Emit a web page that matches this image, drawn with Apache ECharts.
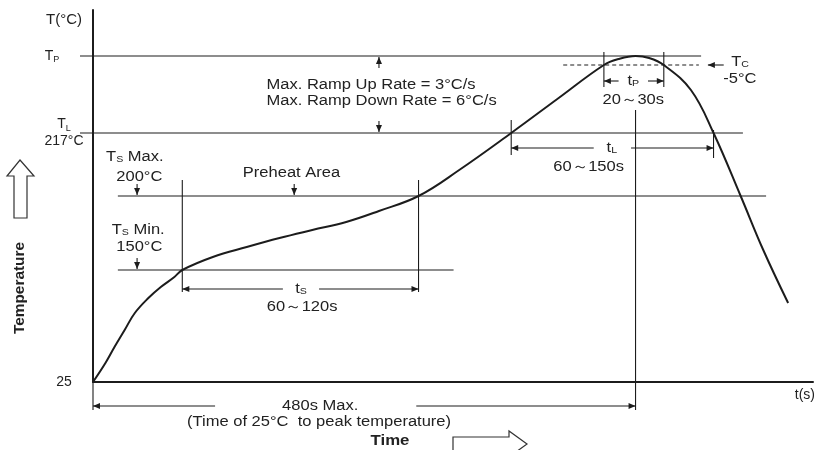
<!DOCTYPE html>
<html><head><meta charset="utf-8">
<script src="https://cdn.jsdelivr.net/npm/echarts@6/dist/echarts.min.js"></script>
<style>html,body{margin:0;padding:0;background:#fff}#c{width:818px;height:450px}</style>
</head><body><div id="c"></div>
<script>
// Schematic reflow profile. Time in seconds (schematic), temperature as schematic height.
const curveTime  = [0,11,19,28,37,49,60,72,79,106,136,165,194,224,253,288,324,370,412,452,465,480,492,505,529,549,573,593,615];
const curveLevel = [0,19,35,52,69,84,95,105,112,125,135,144,152,160,171,186,212,249,284,317,323,326,324,317,292,249,186,132,79];
// levels: 25°C, Ts min 150°C, Ts max 200°C, TL 217°C, Tp-5°C, Tp
const levelValues = [0,112,186,249,317,326];
const axisLevelValues = [0,249,326];
const axisLevelLabels = ['25','{t|T}{s|L}\n217°C','{tp|T}{sp|P}'];
// ts start, ts end, tL start, tp start, peak, tp end, tL end
const markTimes = [79,288,370,452,480,505,549];
const durationText = ['60～120s','60～150s','20～30s','480s Max.'];
const noteText = ['Max. Ramp Up Rate = 3°C/s','Max. Ramp Down Rate = 6°C/s','Preheat Area','(Time of 25°C  to peak temperature)'];

const ink = '#1c1c1c', txtColor = '#222';
const FONT = '"Liberation Sans", Arial, sans-serif';
const subRich = {
  s: {fontSize: 9, fontFamily: FONT, fill: txtColor, color: txtColor, verticalAlign: 'bottom'}
};

function renderAnnotations(params, api) {
  const [L25, LSMIN, LSMAX, LL, LC, LP] = levelValues;
  const [tS1, tS2, tL1, tP1, tPk, tP2, tL2] = markTimes;
  const P = (t, v) => api.coord([t, v]);
  const kids = [];
  const seg = (a, b, dash) => kids.push({type: 'line', shape: {x1: a[0], y1: a[1], x2: b[0], y2: b[1]},
    style: {stroke: ink, lineWidth: 1.1, lineDash: dash || null}});
  const head = (p, dir) => {
    const l = 7, w = 3, x = p[0], y = p[1];
    let pts;
    if (dir === 'up') pts = [[x, y], [x - w, y + l], [x + w, y + l]];
    else if (dir === 'down') pts = [[x, y], [x - w, y - l], [x + w, y - l]];
    else if (dir === 'left') pts = [[x, y], [x + l, y - w], [x + l, y + w]];
    else pts = [[x, y], [x - l, y - w], [x - l, y + w]];
    kids.push({type: 'polygon', shape: {points: pts}, style: {fill: ink}});
  };
  const hline = (v, t1, t2, dash) => seg(P(t1, v), P(t2, v), dash);
  const vline = (t, v1, v2) => seg(P(t, v1), P(t, v2));
  const vArrow = (t, vTip, dir) => {
    const p = P(t, vTip), len = 11;
    const q = [p[0], dir === 'down' ? p[1] - len : p[1] + len];
    seg(q, p); head(p, dir);
  };
  const dim = (v, t1, t2, g1, g2) => {
    hline(v, t1, g1); hline(v, g2, t2);
    head(P(t1, v), 'left'); head(P(t2, v), 'right');
  };
  const txt = (t, v, s, align) => {
    const p = P(t, v);
    kids.push({type: 'text', x: p[0], y: p[1], scaleX: 1.18,
      style: {text: s, align: align || 'center', verticalAlign: 'middle',
        font: '14px ' + FONT, fill: txtColor, rich: subRich}});
  };

  // horizontal guide lines
  const lead = -11.5, tsLead = 22;
  hline(LP, lead, 538);
  hline(LC, 416, 536, [4, 3]);
  hline(LL, lead, 575);
  hline(LSMAX, tsLead, 595.5);
  hline(LSMIN, tsLead, 319);

  // vertical guide lines
  vline(tS1, 202, 90);
  vline(tS2, 202, 90);
  vline(tL1, 262, 227);
  vline(tPk, 272, -28);
  vline(tP1, 330, 295);
  vline(tP2, 330, 295);
  vline(tL2, 252, 224);
  vline(0, 0, -28);

  // dimension arrows
  dim(93, tS1, tS2, 168, 200);
  dim(234, tL1, tL2, 443, 476);
  dim(301, tP1, tP2, 465, 491);
  dim(-24, 0, tPk, 108, 286);

  // small pointer arrows
  vArrow(253, LP - 1, 'up');
  vArrow(253, LL + 1, 'down');
  vArrow(39, LSMAX + 1, 'down');
  vArrow(178, LSMAX + 1, 'down');
  vArrow(39, LSMIN + 1, 'down');
  { const tip = P(544, LC), tail = P(558, LC); seg(tail, tip); head(tip, 'left'); }

  // texts
  txt(153.5, 297, noteText[0], 'left');
  txt(153.5, 281, noteText[1], 'left');
  txt(37, 225, 'T{s|S} Max.');
  txt(41, 205, '200°C');
  txt(175.6, 209, noteText[2]);
  txt(40, 152, 'T{s|S} Min.');
  txt(41, 135, '150°C');
  txt(184, 93, 't{s|S}');
  txt(185, 75, durationText[0]);
  txt(459, 234, 't{s|L}');
  txt(438.5, 215, durationText[1]);
  txt(478, 301, 't{s|P}');
  txt(478, 282, durationText[2]);
  txt(564.7, 320, 'T{s|C}', 'left');
  txt(557.6, 303, '-5°C', 'left');
  txt(201, -24, durationText[3]);
  txt(200, -40, noteText[3]);

  return {type: 'group', children: kids};
}

const chart = echarts.init(document.getElementById('c'), null, {renderer: 'canvas'});
chart.setOption({
  animation: false,
  backgroundColor: '#fff',
  grid: {left: 93, right: 3, top: 10, bottom: 68},
  xAxis: {
    type: 'value', min: 0, max: 637,
    axisLine: {show: true, lineStyle: {color: ink, width: 2}},
    axisTick: {show: false}, axisLabel: {show: false}, splitLine: {show: false},
    name: 't(s)', nameLocation: 'end', nameGap: 2,
    nameTextStyle: {align: 'right', verticalAlign: 'top', padding: [6, 0, 0, 0],
      fontSize: 14, fontFamily: 'Liberation Sans', color: txtColor}
  },
  yAxis: {
    type: 'value', min: 0, max: 372,
    axisLine: {show: true, lineStyle: {color: ink, width: 2}},
    axisTick: {show: false}, splitLine: {show: false},
    axisLabel: {
      customValues: axisLevelValues,
      formatter: v => axisLevelLabels[axisLevelValues.indexOf(v)] || '',
      align: 'center', margin: 29, fontSize: 14, fontFamily: 'Liberation Sans',
      color: txtColor, lineHeight: 17,
      rich: {
        t: {fontSize: 14, fontFamily: 'Liberation Sans', color: txtColor},
        s: {fontSize: 9, fontFamily: 'Liberation Sans', color: txtColor, verticalAlign: 'bottom'},
        tp: {fontSize: 14, fontFamily: 'Liberation Sans', color: txtColor},
        sp: {fontSize: 9, fontFamily: 'Liberation Sans', color: txtColor, verticalAlign: 'bottom', padding: [0, 24, 0, 0]}
      }
    },
    name: 'T(°C)', nameLocation: 'end', nameGap: -10,
    nameTextStyle: {align: 'right', verticalAlign: 'middle', padding: [0, 11, 0, 0],
      fontSize: 15, fontFamily: 'Liberation Sans', color: txtColor}
  },
  graphic: [
    {type: 'text', x: 20, y: 288, rotation: Math.PI / 2, scaleX: 1.1,
      style: {text: 'Temperature', font: 'bold 14px ' + FONT, fill: txtColor, align: 'center', verticalAlign: 'middle'}},
    {type: 'polygon', shape: {points: [[20,160],[34,176],[27,176],[27,218],[14,218],[14,176],[7,176]]},
      style: {fill: 'none', stroke: '#333', lineWidth: 1.2}},
    {type: 'text', x: 390, y: 441, scaleX: 1.2,
      style: {text: 'Time', font: 'bold 14px ' + FONT, fill: txtColor, align: 'center', verticalAlign: 'middle'}},
    {type: 'polygon', shape: {points: [[453,437],[509,437],[509,431],[527,444],[509,457],[509,451],[453,451]]},
      style: {fill: 'none', stroke: '#333', lineWidth: 1.2}}
  ],
  series: [
    {
      type: 'line', name: 'Reflow profile',
      data: curveTime.map((t, i) => [t, curveLevel[i]]),
      smooth: 0.4, showSymbol: false, symbol: 'none',
      lineStyle: {color: ink, width: 2}, z: 5
    },
    {
      type: 'custom', name: 'annotations', data: [[0, 0]], clip: false, silent: true, z: 4,
      renderItem: renderAnnotations
    }
  ]
});
</script></body></html>
